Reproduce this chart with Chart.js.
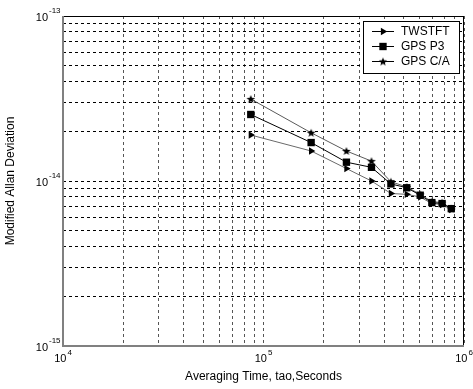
<!DOCTYPE html>
<html><head><meta charset="utf-8">
<script src="https://cdn.jsdelivr.net/npm/chart.js@4.4.1/dist/chart.umd.min.js"></script>
<style>html,body{margin:0;padding:0;background:#fff}#wrap{width:473px;height:389px}</style>
</head><body><div id="wrap"><canvas id="c" width="473" height="389"></canvas></div>
<script>
// ---- data ----
const tauSeconds = [86400, 172800, 259200, 345600, 432000, 518400, 604800, 691200, 777600, 864000];
const twstft = [1.90e-14, 1.52e-14, 1.19e-14, 1.00e-14, 8.4e-15, 8.3e-15, 8.0e-15, 7.3e-15, 7.2e-15, 6.7e-15];
const gpsP3  = [2.53e-14, 1.71e-14, 1.30e-14, 1.21e-14, 9.6e-15, 9.1e-15, 8.2e-15, 7.4e-15, 7.3e-15, 6.8e-15];
const gpsCA  = [3.14e-14, 1.96e-14, 1.52e-14, 1.32e-14, 9.9e-15, 9.2e-15, 8.3e-15, 7.5e-15, 7.4e-15, 6.8e-15];
const seriesNames = ['TWSTFT', 'GPS P3', 'GPS C/A'];
const xTickExps = [4, 5, 6];
const yTickExps = [-15, -14, -13];
const xTitle = 'Averaging Time, tao,Seconds';
const yTitle = 'Modified Allan Deviation';

const FONT = '"Liberation Sans", Arial, sans-serif';

function starImage() {
  const c = document.createElement('canvas');
  c.width = 10; c.height = 10;
  const g = c.getContext('2d');
  g.fillStyle = '#000';
  g.beginPath();
  for (let i = 0; i < 10; i++) {
    const r = i % 2 === 0 ? 4.5 : 1.9;
    const a = -Math.PI / 2 + i * Math.PI / 5;
    const px = 5 + r * Math.cos(a), py = 5.4 + r * Math.sin(a);
    i === 0 ? g.moveTo(px, py) : g.lineTo(px, py);
  }
  g.closePath(); g.fill();
  return c;
}
const STAR = starImage();

function decadeTicks(exps) {
  const out = [];
  for (let i = 0; i < exps.length - 1; i++) {
    for (let m = 1; m <= 9; m++) out.push({ value: m * Math.pow(10, exps[i]) });
  }
  out.push({ value: Math.pow(10, exps[exps.length - 1]) });
  return out;
}
function pts(ys) { return tauSeconds.map((x, i) => ({ x: x, y: ys[i] })); }

const datasets = [
  { label: seriesNames[0], data: pts(twstft), borderColor: '#6a6a6a', borderWidth: 1,
    pointStyle: 'triangle', rotation: 90, pointRadius: 4.2, pointBackgroundColor: '#000', pointBorderColor: '#000', pointBorderWidth: 0, order: 1 },
  { label: seriesNames[1], data: pts(gpsP3), borderColor: '#000', borderWidth: 1,
    pointStyle: 'rect', pointRadius: 5.2, pointBackgroundColor: '#000', pointBorderColor: '#000', pointBorderWidth: 0, order: 0 },
  { label: seriesNames[2], data: pts(gpsCA), borderColor: '#5a5a5a', borderWidth: 1,
    pointStyle: STAR, pointRadius: 5, pointBackgroundColor: '#000', pointBorderColor: '#000', order: 2 }
];

const decor = {
  id: 'decor',
  afterDraw(chart) {
    const ctx = chart.ctx, a = chart.chartArea;
    const xs = chart.scales.x, ys = chart.scales.y;
    ctx.save();
    ctx.setLineDash([]);
    // frame
    ctx.lineWidth = 1;
    ctx.strokeStyle = '#000';
    ctx.beginPath();
    ctx.moveTo(a.left, a.top + 0.5); ctx.lineTo(a.right, a.top + 0.5);
    ctx.moveTo(a.right - 0.5, a.top); ctx.lineTo(a.right - 0.5, a.bottom);
    ctx.stroke();
    ctx.strokeStyle = '#808080';
    ctx.lineWidth = 2;
    ctx.beginPath();
    ctx.moveTo(a.left, a.top); ctx.lineTo(a.left, a.bottom);
    ctx.moveTo(a.left - 1, a.bottom); ctx.lineTo(a.right, a.bottom);
    ctx.stroke();

    ctx.fillStyle = '#000';
    // y tick labels
    yTickExps.forEach(e => {
      const y = ys.getPixelForValue(Math.pow(10, e));
      ctx.font = '11px ' + FONT;
      ctx.textAlign = 'right'; ctx.textBaseline = 'alphabetic';
      ctx.fillText('10', 48, y + 5);
      ctx.font = '8px ' + FONT;
      ctx.textAlign = 'left';
      ctx.fillText(String(e), 49, y - 3.5);
    });
    // x tick labels
    xTickExps.forEach(e => {
      const x = xs.getPixelForValue(Math.pow(10, e));
      ctx.font = '11px ' + FONT;
      const w1 = ctx.measureText('10').width;
      ctx.font = '8px ' + FONT;
      const w2 = ctx.measureText(String(e)).width;
      const x0 = x - (w1 + w2 + 1) / 2;
      ctx.font = '11px ' + FONT;
      ctx.textAlign = 'left'; ctx.textBaseline = 'alphabetic';
      ctx.fillText('10', x0, 362);
      ctx.font = '8px ' + FONT;
      ctx.fillText(String(e), x0 + w1 + 1, 355);
    });
    // axis titles
    ctx.font = '12px ' + FONT;
    ctx.textAlign = 'center'; ctx.textBaseline = 'middle';
    ctx.fillText(xTitle, (a.left + a.right) / 2, 377);
    ctx.save();
    ctx.translate(11, (a.top + a.bottom) / 2);
    ctx.rotate(-Math.PI / 2);
    ctx.fillText(yTitle, 0, 0);
    ctx.restore();

    // legend
    const lx = 363, ly = 21, lw = 96, lh = 52;
    ctx.fillStyle = '#fff';
    ctx.fillRect(lx, ly, lw, lh);
    ctx.strokeStyle = '#000'; ctx.lineWidth = 1;
    ctx.strokeRect(lx + 0.5, ly + 0.5, lw, lh);
    const rowsY = [31, 46, 61];
    chart.data.datasets.forEach((ds, i) => {
      const y = rowsY[i];
      ctx.setLineDash([]);
      ctx.strokeStyle = '#000'; ctx.lineWidth = 1;
      ctx.beginPath(); ctx.moveTo(372, y + 0.5); ctx.lineTo(394, y + 0.5); ctx.stroke();
      ctx.fillStyle = '#000';
      ctx.strokeStyle = '#000';
      Chart.helpers.drawPoint(ctx, {
        pointStyle: ds.pointStyle, rotation: ds.rotation || 0, radius: ds.pointRadius, borderWidth: 0
      }, 383, y + 0.5);
      ctx.font = '12px ' + FONT;
      ctx.textAlign = 'left'; ctx.textBaseline = 'middle';
      ctx.fillStyle = '#000';
      ctx.fillText(ds.label, 401, y + 1);
    });
    ctx.restore();
  }
};

new Chart(document.getElementById('c'), {
  type: 'line',
  data: { datasets: datasets },
  options: {
    responsive: false, devicePixelRatio: 1, animation: false,
    layout: { padding: { left: 63, right: 9, top: 16, bottom: 43 } },
    plugins: { legend: { display: false }, tooltip: { enabled: false } },
    elements: { line: { tension: 0 } },
    scales: {
      x: {
        type: 'logarithmic', min: 1e4, max: 1e6,
        afterBuildTicks: s => { s.ticks = decadeTicks(xTickExps); },
        ticks: { display: false },
        grid: { color: '#555', lineWidth: 1, drawTicks: false },
        border: { display: false, dash: [3, 3] }
      },
      y: {
        type: 'logarithmic', min: 1e-15, max: 1e-13,
        afterBuildTicks: s => { s.ticks = decadeTicks(yTickExps); },
        ticks: { display: false },
        grid: { color: '#000', lineWidth: 1, drawTicks: false },
        border: { display: false, dash: [3, 3] }
      }
    }
  },
  plugins: [decor]
});
</script>
</body></html>
